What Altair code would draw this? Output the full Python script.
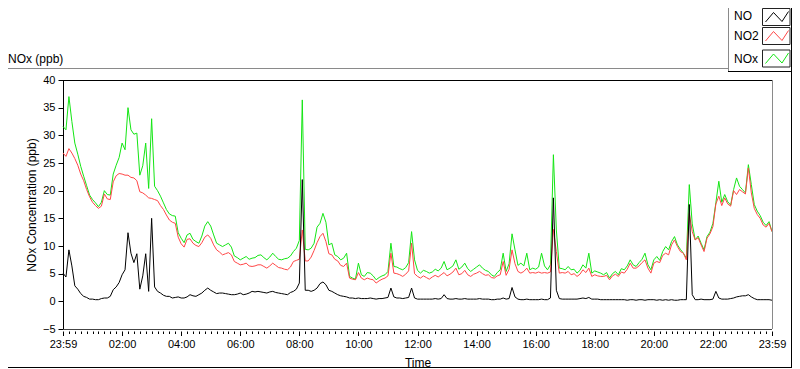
import altair as alt
import pandas as pd

# ---------------- data ----------------
TIME_H = [round(i * 0.1, 1) for i in range(241)]  # hours after 23:59

NOX = [
    31.6, 31.0, 37.0, 32.5, 28.6, 26.6, 24.4, 22.6, 20.9, 19.2,
    18.4, 17.8, 17.1, 17.9, 20.0, 19.3, 19.2, 23.0, 24.6, 26.0,
    28.6, 27.4, 35.0, 31.0, 30.2, 30.4, 22.8, 24.5, 28.6, 20.4,
    33.0, 20.8, 20.0, 19.0, 17.8, 16.6, 15.8, 15.5, 15.4, 12.4,
    11.4, 10.6, 12.0, 12.3, 11.2, 10.8, 10.5, 11.8, 13.6, 14.4,
    13.6, 12.0, 10.5, 10.2, 9.9, 10.2, 10.5, 9.8, 8.2, 7.9,
    7.5, 7.8, 8.1, 7.6, 7.8, 7.9, 8.3, 8.4, 7.9, 7.5,
    8.0, 8.7, 8.1, 7.6, 7.5, 7.7, 7.8, 8.2, 9.0, 9.6,
    11.0, 36.4, 9.4, 9.3, 9.6, 10.5, 13.4, 14.1, 15.9, 14.3,
    10.2, 10.5, 8.4, 8.1, 7.5, 7.8, 8.7, 4.5, 4.2, 4.0,
    6.9, 4.8, 4.5, 5.2, 5.1, 4.6, 3.9, 4.3, 4.6, 4.8,
    5.4, 10.5, 6.3, 6.2, 5.9, 5.7, 6.1, 7.0, 12.6, 7.5,
    5.6, 5.1, 5.6, 5.4, 5.1, 5.3, 5.8, 5.5, 6.0, 7.2,
    5.7, 6.0, 6.4, 7.5, 5.8, 6.2, 6.9, 5.9, 5.4, 5.8,
    6.2, 6.6, 6.0, 5.6, 5.4, 4.8, 4.5, 5.2, 5.7, 8.7,
    5.4, 6.8, 12.2, 9.3, 6.5, 6.9, 6.4, 8.7, 5.7, 6.0,
    5.8, 6.2, 8.7, 6.4, 5.7, 6.6, 26.5, 12.9, 6.0, 5.9,
    5.7, 6.3, 5.7, 5.8, 5.1, 5.6, 6.6, 6.0, 8.7, 5.1,
    5.5, 5.3, 5.1, 4.8, 5.2, 4.2, 5.0, 5.4, 4.8, 5.9,
    5.7, 6.4, 7.5, 6.6, 6.3, 7.0, 7.6, 8.7, 6.6, 5.7,
    7.5, 8.1, 7.4, 9.0, 9.9, 9.3, 10.8, 11.7, 10.2, 9.4,
    8.7, 7.8, 21.1, 14.0, 11.1, 11.8, 10.5, 9.3, 11.7, 12.5,
    14.1, 17.8, 21.7, 17.9, 19.3, 18.0, 17.4, 20.2, 22.3, 20.8,
    20.2, 19.6, 24.7, 21.1, 17.5, 16.3, 15.5, 14.3, 13.7, 14.4,
    12.6,
]

NO2 = [
    26.8, 26.2, 27.6, 26.8, 25.8, 24.6, 23.0, 21.8, 20.2, 18.9,
    17.9, 17.3, 16.8, 17.2, 19.4, 18.5, 18.4, 21.6, 22.7, 23.1,
    23.0, 22.8, 22.8, 22.4, 22.3, 21.8, 19.8, 19.6, 19.2, 18.7,
    18.6, 18.4, 18.2, 17.3, 16.6, 15.6, 14.7, 14.3, 14.1, 11.6,
    10.4, 9.8, 11.2, 11.3, 10.5, 10.1, 9.9, 10.6, 11.6, 12.0,
    11.4, 10.2, 9.3, 8.9, 8.4, 8.6, 8.8, 8.4, 7.2, 6.9,
    6.6, 6.7, 6.9, 6.4, 6.3, 6.4, 6.6, 6.6, 6.3, 6.0,
    6.4, 6.9, 6.5, 6.1, 6.0, 5.8, 5.7, 6.2, 7.2, 7.4,
    7.6, 12.9, 7.3, 7.3, 8.0, 9.2, 10.6, 11.7, 12.3, 10.8,
    8.6, 8.4, 7.6, 7.3, 6.5, 6.3, 6.9, 4.2, 4.0, 3.9,
    5.2, 4.2, 3.9, 4.2, 4.0, 3.9, 3.3, 3.7, 4.0, 4.2,
    4.6, 8.7, 5.1, 5.0, 4.8, 4.5, 4.9, 5.5, 10.5, 5.0,
    4.5, 4.2, 4.6, 4.3, 4.0, 4.4, 4.7, 4.4, 4.8, 5.2,
    4.6, 4.9, 5.3, 6.0, 4.8, 5.0, 5.6, 4.8, 4.5, 4.9,
    5.1, 5.4, 5.0, 4.7, 4.8, 4.3, 4.2, 4.6, 4.8, 7.2,
    4.7, 5.8, 9.3, 6.8, 5.4, 5.1, 5.4, 6.0, 5.1, 5.2,
    5.1, 5.3, 5.1, 5.2, 5.1, 5.3, 13.0, 9.0, 5.1, 5.2,
    5.1, 5.4, 4.8, 5.0, 4.5, 4.9, 5.7, 5.2, 6.0, 4.5,
    4.8, 4.6, 4.5, 4.5, 4.7, 3.9, 4.6, 4.9, 4.5, 5.3,
    5.1, 5.8, 6.9, 6.0, 6.0, 6.4, 7.0, 7.5, 6.0, 5.1,
    6.9, 7.2, 7.0, 8.3, 8.7, 8.4, 10.2, 11.1, 9.9, 9.0,
    8.7, 7.5, 15.9, 12.6, 11.1, 11.5, 10.2, 9.0, 11.4, 12.2,
    13.5, 17.6, 19.0, 17.3, 18.7, 17.6, 17.2, 20.0, 19.3, 20.2,
    19.8, 19.4, 24.1, 19.6, 16.8, 15.7, 15.0, 13.8, 13.4, 14.1,
    12.6,
]

NO = [
    5.1, 4.4, 9.3, 6.4, 2.8, 2.2, 1.4, 0.9, 0.7, 0.4,
    0.4, 0.3, 0.3, 0.5, 0.6, 0.6, 0.9, 2.1, 2.6, 3.4,
    4.8, 5.7, 12.4, 8.7, 7.0, 8.6, 2.2, 4.6, 8.6, 1.8,
    15.0, 2.6, 1.8, 1.5, 1.1, 0.9, 0.9, 0.6, 0.7, 0.8,
    0.6, 0.6, 0.8, 1.2, 1.0, 0.9, 1.2, 1.5, 2.0, 2.4,
    2.0, 1.7, 1.4, 1.5, 1.5, 1.4, 1.3, 1.2, 1.2, 1.3,
    1.5, 1.2, 1.3, 1.5, 1.8, 1.7, 1.8, 1.7, 1.6, 1.5,
    1.7, 1.8, 1.6, 1.5, 1.4, 1.3, 1.2, 1.6, 1.8, 2.2,
    3.3, 22.0, 2.0, 2.0, 1.8, 2.0, 2.4, 3.2, 3.5, 3.0,
    2.0, 1.8, 1.5, 1.2, 1.0, 0.9, 0.8, 0.6, 0.6, 0.5,
    0.6, 0.5, 0.5, 0.5, 0.6, 0.5, 0.4, 0.5, 0.5, 0.6,
    0.7, 2.4, 0.8, 0.6, 0.6, 0.5, 0.6, 0.7, 2.4, 0.6,
    0.4, 0.4, 0.4, 0.4, 0.4, 0.4, 0.5, 0.4, 0.5, 1.2,
    0.5, 0.4, 0.4, 0.5, 0.4, 0.4, 0.5, 0.4, 0.4, 0.4,
    0.4, 0.5, 0.4, 0.4, 0.4, 0.3, 0.3, 0.4, 0.4, 0.6,
    0.4, 0.5, 2.5, 0.8, 0.4, 0.3, 0.3, 0.4, 0.3, 0.3,
    0.3, 0.3, 0.4, 0.3, 0.3, 0.6, 18.7, 2.0, 0.5, 0.4,
    0.4, 0.4, 0.4, 0.4, 0.4, 0.5, 0.6, 0.5, 0.7, 0.4,
    0.4, 0.4, 0.3, 0.3, 0.3, 0.3, 0.3, 0.3, 0.3, 0.3,
    0.3, 0.2, 0.3, 0.3, 0.2, 0.3, 0.3, 0.2, 0.3, 0.3,
    0.3, 0.2, 0.3, 0.2, 0.3, 0.2, 0.3, 0.2, 0.2, 0.3,
    0.3, 0.3, 17.5, 1.2, 0.3, 0.3, 0.4, 0.3, 0.3, 0.3,
    0.4, 1.8, 0.6, 0.4, 0.4, 0.4, 0.5, 0.6, 0.8, 0.9,
    1.0, 1.0, 1.2, 0.8, 0.5, 0.3, 0.3, 0.3, 0.3, 0.3,
    0.2,
]

SERIES = ["NO", "NO2", "NOx"]
COLORS = ["#000000", "#ff4646", "#14e614"]
Y_TICKS = [-5, 0, 5, 10, 15, 20, 25, 30, 35, 40]
X_LABELS = ["23:59", "02:00", "04:00", "06:00", "08:00", "10:00", "12:00",
            "14:00", "16:00", "18:00", "20:00", "22:00", "23:59"]
X_TICKS_MIN = list(range(0, 1441, 12))

FONT = "Liberation Sans"
W, H = 709, 249

minutes = [h * 60 for h in TIME_H]
series_values = {"NO": NO, "NO2": NO2, "NOx": NOX}

label_js = "[" + ",".join("'%s'" % s for s in X_LABELS) + "]"
x_enc = alt.X(
    "t:Q",
    scale=alt.Scale(domain=[0, 1440], nice=False, zero=False),
    axis=alt.Axis(
        values=X_TICKS_MIN,
        labelExpr="datum.value % 120 ? '' : " + label_js + "[round(datum.value / 120)]",
        tickSize={"condition": {"test": "datum.value % 120 === 0", "value": 4.5}, "value": 2.5},
        tickColor="black",
        tickWidth=1,
        domain=False,
        offset=2,
        grid=False,
        labelFont=FONT,
        labelFontSize=11,
        labelColor="black",
        labelPadding=3,
        labelFlush=False,
        labelOverlap=False,
        labelBound=False,
        title="Time",
        titleFont=FONT,
        titleFontSize=12,
        titleFontWeight="normal",
        titleColor="black",
        titleX=W / 2,
        titleY=31,
        titleBaseline="middle",
        titleAlign="center",
    ),
)
y_enc = alt.Y(
    "v:Q",
    scale=alt.Scale(domain=[-5, 40], nice=False, zero=False),
    axis=alt.Axis(
        values=Y_TICKS,
        tickSize=5,
        tickColor="black",
        domainColor="black",
        grid=False,
        labelFont=FONT,
        labelFontSize=11,
        labelColor="black",
        labelPadding=3,
        labelFlush=False,
        title="NOx Concentration (ppb)",
        titleFont=FONT,
        titleFontSize=12,
        titleFontWeight="normal",
        titleColor="black",
        titleX=-32,
        titleY=H / 2,
        titleBaseline="middle",
        titleAlign="center",
    ),
)

layers = []
# draw order: NOx (green) bottom, NO2 (red), NO (black) on top
for name in ["NOx", "NO2", "NO"]:
    col = COLORS[SERIES.index(name)]
    df = pd.DataFrame({"t": minutes, "v": series_values[name], "s": name})
    layers.append(
        alt.Chart(df).mark_line(color=col, strokeWidth=1, interpolate="linear").encode(x=x_enc, y=y_enc)
    )

one = pd.DataFrame({"k": [0]})


def rule(x1, x2, y1, y2, color, width=1):
    return alt.Chart(one).mark_rule(color=color, strokeWidth=width).encode(
        x=alt.value(x1), x2=alt.value(x2), y=alt.value(y1), y2=alt.value(y2)
    )


# plot frame
layers.append(rule(0, W, 0.5, 0.5, "black"))
layers.append(rule(W + 0.5, W + 0.5, 0, H, "#8a8a8a"))
layers.append(rule(0, W, H + 0.5, H + 0.5, "#444444"))

# outer control frame
R = 728.5
layers.append(rule(-55, 665, -11.5, -11.5, "#8a8a8a"))
layers.append(rule(665.5, 665.5, -72, -8, "#8a8a8a"))
layers.append(rule(665, R, -8.5, -8.5, "black"))
layers.append(rule(R, R, -72, 288, "black"))
layers.append(rule(-55, R, 287.5, 287.5, "black"))

# top-left caption
layers.append(
    alt.Chart(one).mark_text(align="left", baseline="middle", font=FONT, fontSize=12, color="black").encode(
        x=alt.value(-55), y=alt.value(-21), text=alt.value("NOx (ppb)")
    )
)

# legend
legend_rows = [-64.5, -44, -21]
box_tops = [-71.5, -52.5, -30]
zig = [(3, 13.5), (11, 4), (19.5, 13), (26, 3)]
bx = 699.5
for name, col, ty, by in zip(SERIES, COLORS, legend_rows, box_tops):
    layers.append(
        alt.Chart(one).mark_text(align="left", baseline="middle", font=FONT, fontSize=12, color="black").encode(
            x=alt.value(671), y=alt.value(ty), text=alt.value(name)
        )
    )
    layers.append(
        alt.Chart(one).mark_rect(fill="white", stroke="#222222", strokeWidth=1).encode(
            x=alt.value(bx), x2=alt.value(bx + 27.5), y=alt.value(by), y2=alt.value(by + 17)
        )
    )
    for (ax, ay), (cx, cy) in zip(zig[:-1], zig[1:]):
        layers.append(rule(bx + ax, bx + cx, by + ay, by + cy, col))

chart = (
    alt.layer(*layers)
    .properties(
        width=W,
        height=H,
        autosize=alt.AutoSizeParams(type="none"),
        padding={"left": 55, "top": 72, "right": 20, "bottom": 40},
        background="white",
    )
    .configure_view(stroke=None)
)

chart.save("out.html", embed_options={"renderer": "svg", "actions": False})
